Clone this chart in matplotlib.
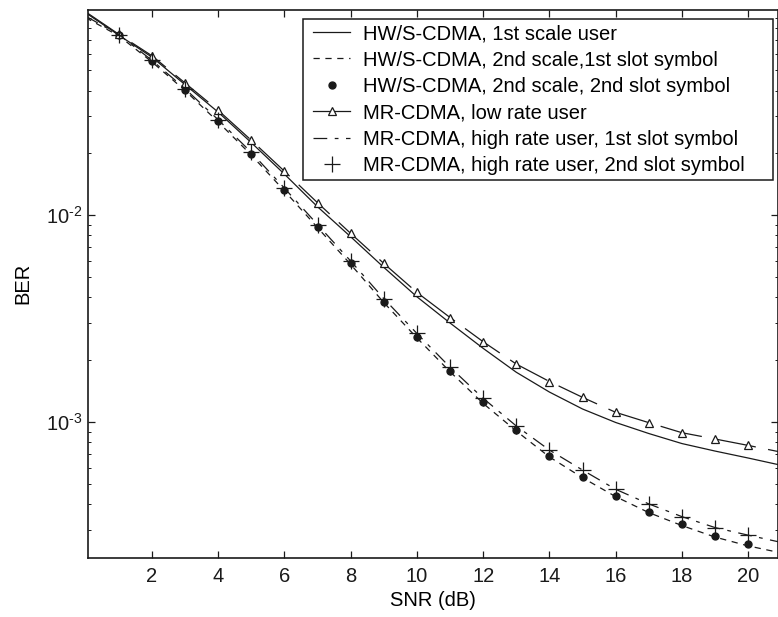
import numpy as np
import matplotlib
matplotlib.use("Agg")
import matplotlib.pyplot as plt
from matplotlib.lines import Line2D
from matplotlib.patches import Rectangle
from matplotlib.ticker import FixedLocator, LogLocator, NullFormatter, FuncFormatter

plt.rcParams['font.family'] = ['Liberation Sans', 'DejaVu Sans']
plt.rcParams['mathtext.fontset'] = 'custom'
plt.rcParams['mathtext.rm'] = 'Liberation Sans'
plt.rcParams['mathtext.default'] = 'regular'

# SNR grid for the curves (0..21 dB) and marker positions (1..20 dB)
snr = np.arange(0, 22)
snr_mk = np.arange(1, 21)

# HW/S-CDMA, 1st scale user (solid)
hws_1st = [0.095, 0.0741, 0.0580, 0.0427, 0.03145, 0.0224, 0.01578, 0.01097,
           0.00786, 0.00559, 0.00403, 0.00301, 0.00227, 0.00174, 0.001396,
           0.001156, 0.000995, 0.000880, 0.000787, 0.000724, 0.000670, 0.000618]
# HW/S-CDMA, 2nd scale, 1st slot symbol (dashed)
hws_2nd_s1 = [0.0900, 0.0735, 0.0550, 0.0400, 0.0282, 0.0195, 0.0131, 0.00870,
              0.00578, 0.00378, 0.00255, 0.00175, 0.00123, 0.000905, 0.000678,
              0.000538, 0.000436, 0.000365, 0.000316, 0.000278, 0.000252, 0.000233]
# HW/S-CDMA, 2nd scale, 2nd slot symbol (dots)
hws_2nd_s2 = [0.0741, 0.0554, 0.0402, 0.0284, 0.0197, 0.0132, 0.00878, 0.00584,
              0.00381, 0.00258, 0.00177, 0.001245, 0.000915, 0.000685, 0.000544,
              0.000441, 0.000369, 0.000321, 0.000282, 0.000257]
# MR-CDMA, low rate user (triangles)
mr_low = [0.096, 0.0748, 0.0589, 0.0435, 0.0321, 0.0230, 0.0163, 0.01147,
          0.00816, 0.00584, 0.00423, 0.00320, 0.002443, 0.001906, 0.001570,
          0.001316, 0.001114, 0.000993, 0.000888, 0.000828, 0.000771, 0.000715]
# MR-CDMA, high rate user, 1st slot symbol (long-short dash)
mr_high_s1 = [0.0915, 0.0745, 0.0560, 0.0408, 0.0289, 0.0201, 0.0135, 0.0090,
              0.00600, 0.00395, 0.00268, 0.00184, 0.001302, 0.000957, 0.000732,
              0.000586, 0.000473, 0.000402, 0.000349, 0.000309, 0.000284, 0.000262]
# MR-CDMA, high rate user, 2nd slot symbol (plus)
mr_high_s2 = [0.0745, 0.0560, 0.0408, 0.0289, 0.0201, 0.0135, 0.0090, 0.00600,
              0.00395, 0.00268, 0.00184, 0.001302, 0.000957, 0.000732, 0.000586,
              0.000473, 0.000402, 0.000349, 0.000309, 0.000284]

labels = ["HW/S-CDMA, 1st scale user",
          "HW/S-CDMA, 2nd scale,1st slot symbol",
          "HW/S-CDMA, 2nd scale, 2nd slot symbol",
          "MR-CDMA, low rate user",
          "MR-CDMA, high rate user, 1st slot symbol",
          "MR-CDMA, high rate user, 2nd slot symbol"]

W, H = 778, 617
ink = "#1a1a1a"
fs = 14.5
fig = plt.figure(figsize=(W / 100, H / 100), dpi=100)
ax = fig.add_axes([88 / W, (H - 557.7) / H, 690 / W, (557.7 - 10) / H])

ax.plot(snr, hws_1st, color=ink, lw=0.9, ls='-')
ax.plot(snr, hws_2nd_s1, color=ink, lw=0.9, dashes=(5, 4.5))
ax.plot(snr_mk, hws_2nd_s2, color=ink, ls='none', marker='o', ms=5)
ax.plot(snr, mr_low, color=ink, lw=0.9, dashes=(34, 10),
        marker='^', ms=5.5, mfc='white', mec=ink, mew=0.9, markevery=slice(1, 21))
ax.plot(snr, mr_high_s1, color=ink, lw=0.9, dashes=(11, 6, 3, 6))
ax.plot(snr_mk, mr_high_s2, color=ink, ls='none', marker='+', ms=11, mew=0.9)

ax.set_yscale('log')
ax.set_xlim(0.07, 20.9)
ax.set_ylim(2.21e-4, 0.098)

ax.xaxis.set_major_locator(FixedLocator(np.arange(2, 21, 2)))
ax.yaxis.set_major_locator(LogLocator(base=10))
ax.yaxis.set_minor_locator(LogLocator(base=10, subs=np.arange(2, 10)))
ax.yaxis.set_minor_formatter(NullFormatter())
ax.yaxis.set_major_formatter(FuncFormatter(
    lambda v, p: r"10$^{\text{-}%d}$" % abs(round(np.log10(v)))))

ax.tick_params(which='both', direction='in', top=True, right=True, colors=ink)
ax.tick_params(which='major', length=5, width=0.9, labelsize=fs)
ax.tick_params(which='minor', length=2.5, width=0.7)
ax.tick_params(axis='x', pad=7)
ax.tick_params(axis='y', pad=4)
for s in ax.spines.values():
    s.set_linewidth(1.2)
    s.set_color(ink)

ax.set_xlabel("SNR (dB)", fontsize=fs, labelpad=3)
ax.set_ylabel("BER", fontsize=fs, labelpad=10)

# legend box (MATLAB style: wider on the right than the text needs)
box = Rectangle((303 / W, (H - 180) / H), 470 / W, 161 / H, transform=fig.transFigure,
                facecolor='white', edgecolor=ink, lw=1.1, zorder=4)
ax.add_artist(box)

handles = [
    Line2D([], [], color=ink, lw=0.9),
    Line2D([], [], color=ink, lw=0.9, dashes=(5, 4.5)),
    Line2D([], [], color=ink, ls='none', marker='o', ms=5),
    Line2D([], [], color=ink, lw=0.9, marker='^', ms=5.5, mfc='white', mec=ink, mew=0.9),
    Line2D([], [], color=ink, lw=0.9, dashes=(11, 6, 3, 6)),
    Line2D([], [], color=ink, ls='none', marker='+', ms=11, mew=0.9),
]
leg = ax.legend(handles, labels, loc='upper left',
                bbox_to_anchor=(305 / W, (H - 16) / H),
                bbox_transform=fig.transFigure, borderaxespad=0,
                fontsize=fs, frameon=False, handlelength=1.84, handletextpad=0.65,
                labelspacing=0.37, borderpad=0.4, numpoints=1)
leg.set_zorder(5)

fig.savefig("out.png", dpi=100)
